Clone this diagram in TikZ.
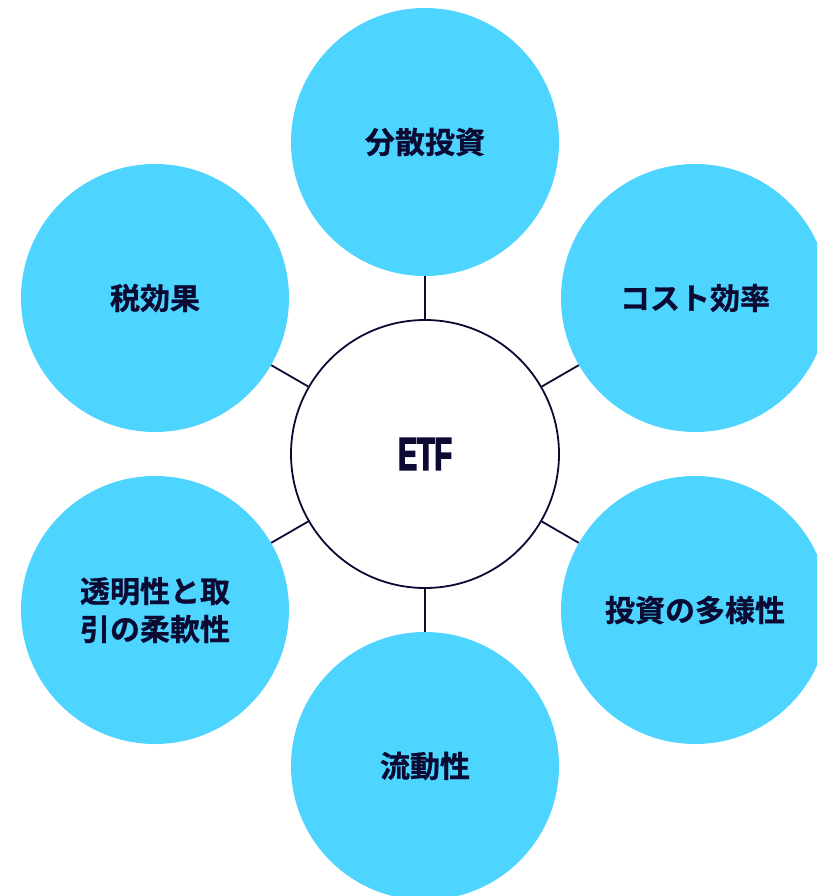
\documentclass[tikz,border=0pt]{standalone}
\usepackage{fontspec}
\newfontfamily\cjk[FakeBold=0.8]{Noto Sans CJK JP Bold}
\newfontfamily\etffont[FakeStretch=0.62,FakeBold=3]{Liberation Sans Bold}
\definecolor{bubble}{HTML}{4DD4FF}
\definecolor{ink}{HTML}{0A0A33}
\begin{document}
\begin{tikzpicture}[x=1pt,y=-1pt,
  outer/.style={circle,fill=bubble,minimum size=268pt,inner sep=0pt,
    font=\cjk\fontsize{30}{38}\selectfont,text=ink,align=center},
  hub/.style={circle,draw=ink,line width=1.8pt,fill=white,minimum size=268pt,inner sep=0pt,
    font=\etffont\fontsize{46}{46}\selectfont,text=ink},
  link/.style={draw=ink,line width=1.8pt}]
\useasboundingbox (0,0) rectangle (817,896);
\clip (0,0) rectangle (817,896);
\node[hub] (c) at (425,454) {ETF};
\node[outer] (t) at (425,142) {分散投資};
\node[outer] (rt) at (695,298) {コスト効率};
\node[outer] (rb) at (695,610) {投資の多様性};
\node[outer] (b) at (425,766) {流動性};
\node[outer] (lb) at (155,610) {透明性と取\\引の柔軟性};
\node[outer] (lt) at (155,298) {税効果};
\foreach \n in {t,rt,rb,b,lb,lt} \draw[link] (c) -- (\n);
\end{tikzpicture}
\end{document}
